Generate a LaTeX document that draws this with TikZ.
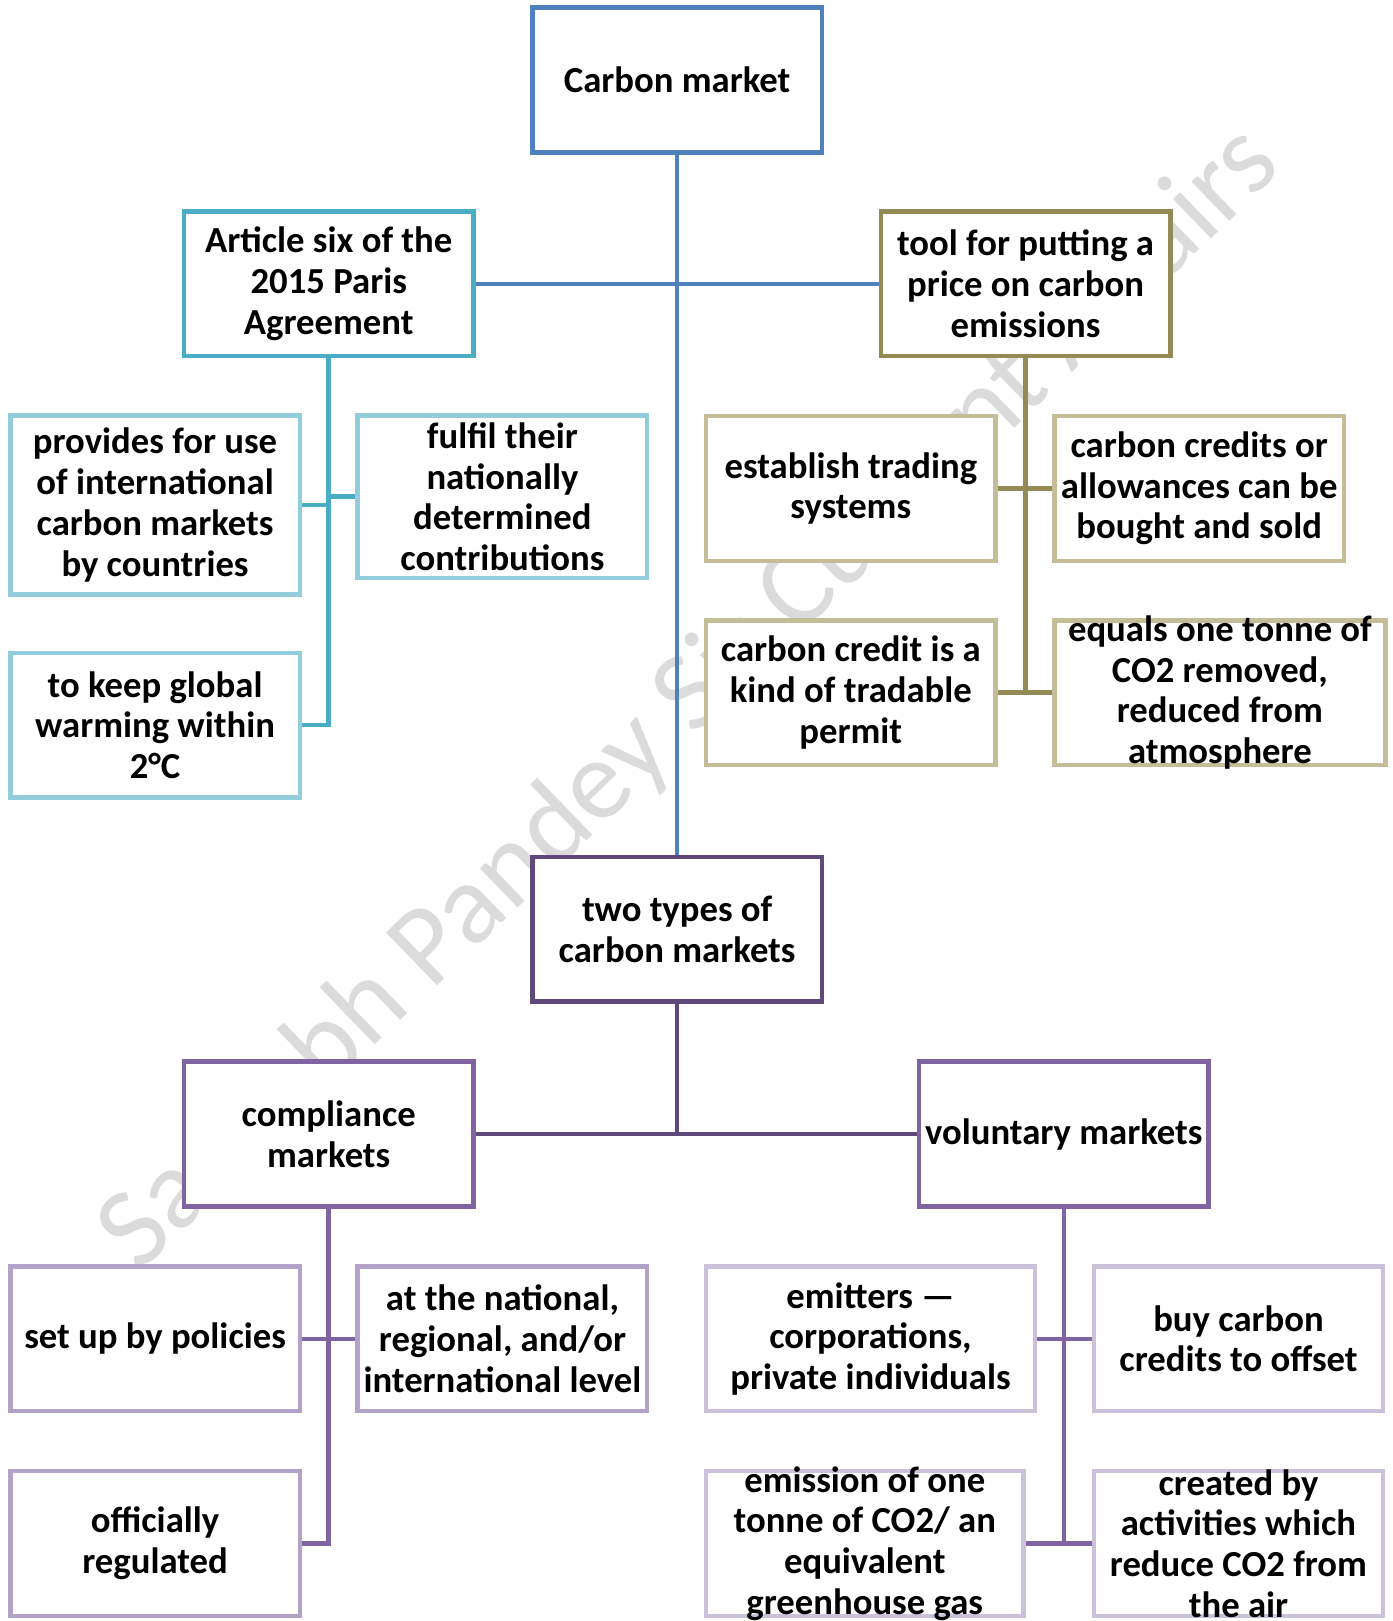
\documentclass[tikz,border=0pt]{standalone}
\usepackage{fontspec}
\setmainfont{Carlito}
\usepackage{xcolor}
\usepackage{tikz}
\usetikzlibrary{positioning,calc}
\definecolor{cblue}{HTML}{4F81BD}
\definecolor{cteal}{HTML}{4BACC6}
\definecolor{ctealL}{HTML}{92CDDC}
\definecolor{colive}{HTML}{948A54}
\definecolor{coliveL}{HTML}{C4BD97}
\definecolor{cpurD}{HTML}{5F497A}
\definecolor{cpur}{HTML}{8064A2}
\definecolor{cpurL}{HTML}{B3A2C7}
\definecolor{cpurLL}{HTML}{CCC1DA}

\begin{document}
\begin{tikzpicture}[
  x=0.02cm, y=-0.02cm,
  font=\bfseries\fontsize{20.2}{22.4}\selectfont,
  cbox/.style={draw=#1, line width=2.5pt, fill=white, minimum width=5.6cm, minimum height=2.8cm, inner sep=0pt},
  ctext/.style={align=center, inner sep=0pt},
  link/.style={draw=#1, line width=2.5pt},
  wmark/.style={font=\fontsize{63}{63}\selectfont, text=black!14, inner sep=0pt},
]
  \useasboundingbox (0,0) rectangle (1347,1568);
  % --- watermark ---
  \node[wmark, rotate=44] (wm) at (668,676) {Saurabh Pandey Sir Current Affairs};
  % --- top level ---
  \node[cbox=cblue] (cm) at (655,77.5) {};
  \node[ctext] at (cm) {Carbon market};
  \node[cbox=cteal] (art) at (318,274.5) {};
  \node[ctext] at (art) {Article six of the\\2015 Paris\\Agreement};
  \node[cbox=colive] (tool) at (992,274.5) {};
  \node[ctext] at (tool) {tool for putting a\\price on carbon\\emissions};
  % --- Article six branch ---
  \node[cbox=ctealL, minimum height=3.46cm] (prov) at (150,488.5) {};
  \node[ctext] at (prov) {provides for use\\of international\\carbon markets\\by countries};
  \node[cbox=ctealL, minimum height=3.14cm] (fulf) at (486,480.5) {};
  \node[ctext] at (fulf) {fulfil their\\nationally\\determined\\contributions};
  \node[cbox=ctealL] (keep) at (150,701.5) {};
  \node[ctext] at (keep) {to keep global\\warming within\\2°C};
  % --- price branch ---
  \node[cbox=coliveL] (est) at (823,472.5) {};
  \node[ctext] at (est) {establish trading\\systems};
  \node[cbox=coliveL] (allow) at (1160,472.5) {};
  \node[ctext] at (allow) {carbon credits or\\allowances can be\\bought and sold};
  \node[cbox=coliveL] (perm) at (823,670) {};
  \node[ctext] at (perm) {carbon credit is a\\kind of tradable\\permit};
  \node[cbox=coliveL, minimum width=6.4cm] (equ) at (1180,670) {};
  \node[ctext] at (equ) {equals one tonne of\\CO2 removed,\\reduced from\\atmosphere};
  % --- market types ---
  \node[cbox=cpurD] (two) at (655,899) {};
  \node[ctext] at (two) {two types of\\carbon markets};
  \node[cbox=cpur] (comp) at (318,1097) {};
  \node[ctext] at (comp) {compliance\\markets};
  \node[cbox=cpur] (vol) at (1029,1097) {};
  \node[ctext] at (vol) {voluntary markets};
  % --- compliance branch ---
  \node[cbox=cpurL] (setup) at (150,1295) {};
  \node[ctext] at (setup) {set up by policies};
  \node[cbox=cpurL] (natl) at (486,1295) {};
  \node[ctext] at (natl) {at the national,\\regional, and/or\\international level};
  \node[cbox=cpurL] (offi) at (150,1493) {};
  \node[ctext] at (offi) {officially\\regulated};
  % --- voluntary branch ---
  \node[cbox=cpurLL, minimum width=6.36cm] (emit) at (842,1295) {};
  \node[ctext] at (emit) {emitters —\\corporations,\\private individuals};
  \node[cbox=cpurLL] (buy) at (1198,1295) {};
  \node[ctext] at (buy) {buy carbon\\credits to offset};
  \node[cbox=cpurLL, minimum width=6.14cm] (emis) at (836.5,1493) {};
  \node[ctext] at (emis) {emission of one\\tonne of CO2/ an\\equivalent\\greenhouse gas};
  \node[cbox=cpurLL] (crea) at (1198,1493) {};
  \node[ctext] at (crea) {created by\\activities which\\reduce CO2 from\\the air};
  % --- connectors ---
  \draw[link=cblue] (cm.south) -- (two.north);
  \draw[link=cblue] (art.east) -- (tool.west);
  \draw[link=cteal] (art.south) |- (keep.east);
  \draw[link=cteal] (prov.east) -- (prov.east -| art.south);
  \draw[link=cteal] (fulf.west) -- (fulf.west -| art.south);
  \draw[link=colive] (tool.south) |- (perm.east);
  \draw[link=colive] (est.east) -- (allow.west);
  \draw[link=colive] (perm.east) -- (equ.west);
  \draw[link=cpurD] (two.south) -- (two.south |- comp.east);
  \draw[link=cpurD] (comp.east) -- (vol.west);
  \draw[link=cpur] (comp.south) |- (offi.east);
  \draw[link=cpur] (setup.east) -- (natl.west);
  \draw[link=cpur] (vol.south) -- (vol.south |- emis.east);
  \draw[link=cpur] (emit.east) -- (buy.west);
  \draw[link=cpur] (emis.east) -- (crea.west);
\end{tikzpicture}
\end{document}
